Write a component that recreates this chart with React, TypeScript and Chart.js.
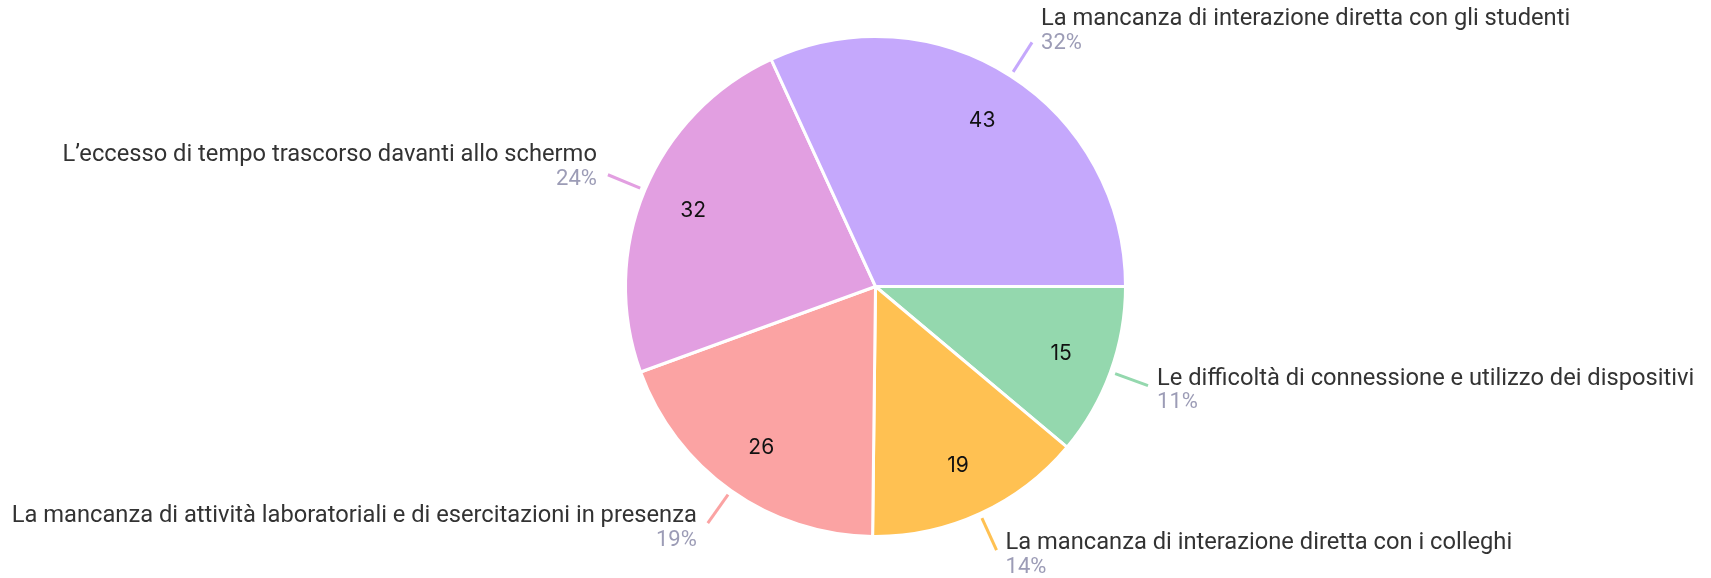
import React, { useEffect, useRef } from "react";
import { Chart, registerables } from "chart.js";
Chart.register(...registerables);

const categories = [
  "Le difficoltà di connessione e utilizzo dei dispositivi",
  "La mancanza di interazione diretta con i colleghi",
  "La mancanza di attività laboratoriali e di esercitazioni in presenza",
  "L’eccesso di tempo trascorso davanti allo schermo",
  "La mancanza di interazione diretta con gli studenti",
];
const counts = [15, 19, 26, 32, 43];
const percentLabels = ["11%", "14%", "19%", "24%", "32%"];
const sliceColors = ["#94D8AE", "#FFC152", "#FBA3A3", "#E29FE1", "#C5A8FC"];

const labelPlugin = {
  id: "pieLabels",
  afterDatasetsDraw(chart: any) {
    const ctx = chart.ctx;
    const meta = chart.getDatasetMeta(0);
    meta.data.forEach((arc: any, i: number) => {
      const p = arc.getProps(["x", "y", "startAngle", "endAngle", "outerRadius"], true);
      const mid = (p.startAngle + p.endAngle) / 2;
      const cos = Math.cos(mid);
      const sin = Math.sin(mid);
      const R = p.outerRadius;
      ctx.save();
      ctx.font = "21px Inter";
      ctx.fillStyle = "#111";
      ctx.textAlign = "center";
      ctx.textBaseline = "middle";
      const ir = R * 0.79;
      ctx.fillText(String(counts[i]), p.x + ir * cos, p.y + ir * sin);
      const r1 = R + 5;
      const r2 = R + 40;
      const ex = p.x + r2 * cos;
      const ey = p.y + r2 * sin;
      ctx.strokeStyle = sliceColors[i];
      ctx.lineWidth = 3;
      ctx.beginPath();
      ctx.moveTo(p.x + r1 * cos, p.y + r1 * sin);
      ctx.lineTo(ex, ey);
      ctx.stroke();
      const right = cos >= 0;
      const tx = right ? ex + 9 : ex - 11;
      const cy = sin < 0 ? ey - 5 + 7 * sin : ey + 5;
      ctx.textAlign = right ? "left" : "right";
      ctx.textBaseline = "middle";
      ctx.font = "23.7px Roboto";
      ctx.fillStyle = "#333333";
      ctx.fillText(categories[i], tx, cy - 12);
      ctx.font = "22px Roboto";
      ctx.fillStyle = "#9C9CB6";
      ctx.fillText(percentLabels[i], tx, cy + 12);
      ctx.restore();
    });
  },
};

export default function App() {
  const ref = useRef<HTMLCanvasElement>(null);
  useEffect(() => {
    if (!ref.current) return;
    const chart = new Chart(ref.current, {
      type: "pie",
      data: {
        labels: categories,
        datasets: [
          {
            data: counts,
            backgroundColor: sliceColors,
            borderColor: "#ffffff",
            borderWidth: 3,
          },
        ],
      },
      options: {
        animation: false,
        responsive: true,
        maintainAspectRatio: false,
        rotation: 90,
        layout: { padding: { left: 40, right: 0, top: 35, bottom: 40 } },
        plugins: { legend: { display: false }, tooltip: { enabled: false } },
      },
      plugins: [labelPlugin],
    });
    return () => chart.destroy();
  }, []);
  return (
    <div style={{ position: "fixed", left: 0, top: 0, width: 1711, height: 578, background: "#fff" }}>
      <canvas ref={ref} />
    </div>
  );
}
